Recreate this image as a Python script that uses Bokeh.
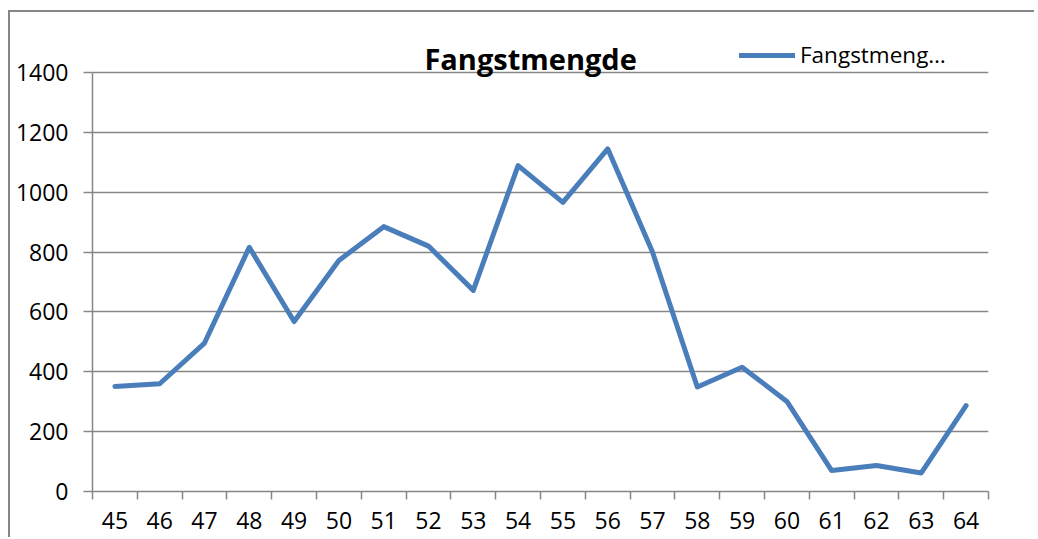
from bokeh.plotting import figure
from bokeh.models import Range1d, FixedTicker, Legend, LegendItem, Label
from bokeh.embed import file_html
from bokeh.resources import INLINE

# ---- data ----
years = [45, 46, 47, 48, 49, 50, 51, 52, 53, 54, 55, 56, 57, 58, 59, 60, 61, 62, 63, 64]
catch = [351, 360, 496, 816, 568, 772, 885, 820, 672, 1089, 966, 1145, 800, 349, 415, 301, 70, 87, 62, 287]
y_ticks = [0, 200, 400, 600, 800, 1000, 1200, 1400]
title_text = "Fangstmengde"
legend_text = "Fangstmeng\u2026"

# ---- layout ----
W, H = 1026, 527
ML, MT = 82, 0
MR = W - 978
MB = H - 479
frame_h = H - MT - MB
y_top = 1400 * frame_h / 419.0

GRAY = "#868686"
BLUE = "#4A7EBB"
FONT = "Open Sans"

p = figure(width=W, height=H, output_backend="svg", toolbar_location=None,
           x_range=Range1d(years[0] - 0.5, years[-1] + 0.5),
           y_range=Range1d(0, y_top),
           min_border_left=ML, min_border_right=MR, min_border_top=MT, min_border_bottom=MB)
p.styles = {"border-left": "2px solid " + GRAY, "border-top": "2px solid " + GRAY,
            "margin-left": "8px", "margin-top": "10px"}
p.outline_line_color = None
p.background_fill_color = "white"
p.border_fill_color = "white"

r = p.line(years, catch, line_color=BLUE, line_width=5, line_cap="round", line_join="round")

# x axis: labels at categories, ticks between categories
xa = p.xaxis[0]
xa.ticker = FixedTicker(ticks=years, minor_ticks=[y - 0.5 for y in years] + [years[-1] + 0.5])
xa.major_tick_out = 0
xa.major_tick_in = 0
xa.minor_tick_out = 8
xa.minor_tick_in = 0
xa.minor_tick_line_color = GRAY
xa.minor_tick_line_width = 1.5
xa.axis_line_color = GRAY
xa.axis_line_width = 1.5
xa.major_label_standoff = 12
xa.major_label_text_font = FONT
xa.major_label_text_font_size = "23px"
xa.major_label_text_color = "black"
p.xgrid.visible = False

ya = p.yaxis[0]
ya.ticker = FixedTicker(ticks=y_ticks, minor_ticks=[])
ya.bounds = (0, 1400)
ya.major_tick_out = 9
ya.major_tick_in = 0
ya.major_tick_line_color = GRAY
ya.major_tick_line_width = 1.5
ya.axis_line_color = GRAY
ya.axis_line_width = 1.5
ya.major_label_standoff = 15
ya.major_label_text_font = FONT
ya.major_label_text_font_size = "23px"
ya.major_label_text_color = "black"
p.ygrid.ticker = FixedTicker(ticks=y_ticks, minor_ticks=[])
p.ygrid.grid_line_color = GRAY
p.ygrid.grid_line_width = 1.5

title = Label(x=54.28, y=1448, text=title_text, text_align="center", text_baseline="alphabetic",
              text_font=FONT, text_font_style="bold", text_font_size="29px", text_color="black")
p.add_layout(title)

legend = Legend(items=[LegendItem(label=legend_text, renderers=[r])],
                location=(647, 421), padding=0, margin=0, border_line_color=None,
                background_fill_alpha=0, glyph_width=56, glyph_height=20, label_standoff=5,
                label_text_font=FONT, label_text_font_size="22.5px", label_text_color="black")
p.add_layout(legend)

open("out.html", "w").write(file_html(p, INLINE))
